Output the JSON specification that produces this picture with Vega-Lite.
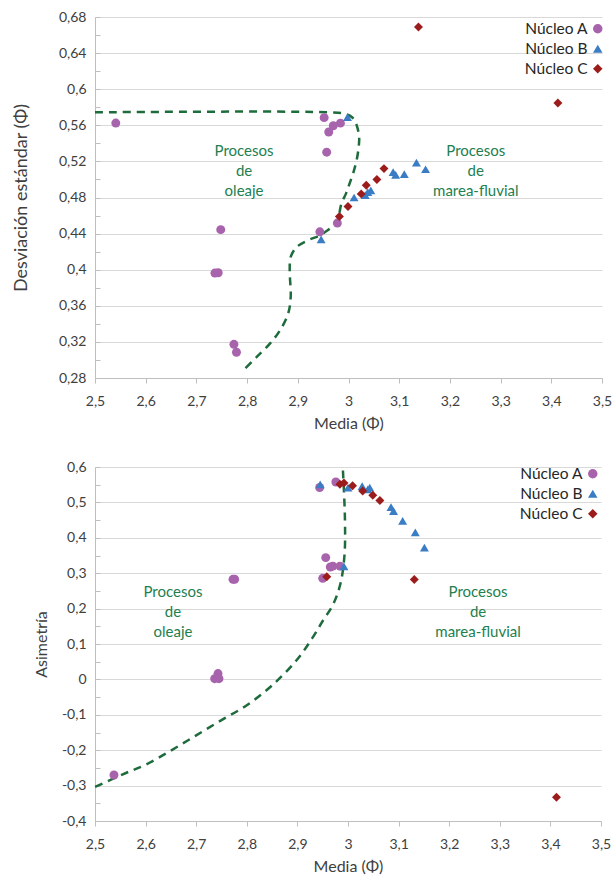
{
  "$schema": "https://vega.github.io/schema/vega-lite/v6.json",
  "padding": {"left": 12, "top": 10, "right": 2, "bottom": 5},
  "config": {
    "font": "Lato",
    "view": {"stroke": null},
    "axis": {"labelColor": "#404040", "titleColor": "#404040", "labelFontSize": 14, "titleFontSize": 16, "titleFontWeight": "normal", "gridColor": "#d9d9d9", "domainColor": "#bfbfbf", "tickColor": "#bfbfbf", "labelFont": "Lato", "titleFont": "Lato", "labelOverlap": false, "labelFlush": false},
    "legend": {"labelFont": "Lato", "labelFontSize": 15.5, "labelColor": "#262626"},
    "text": {"lineBreak": "\n"}
  },
  "datasets": {
    "top": [
      {"nucleo": "Núcleo A", "media": 2.541, "desv": 0.5625},
      {"nucleo": "Núcleo A", "media": 2.952, "desv": 0.5685},
      {"nucleo": "Núcleo A", "media": 2.970, "desv": 0.5595},
      {"nucleo": "Núcleo A", "media": 2.984, "desv": 0.5624},
      {"nucleo": "Núcleo A", "media": 2.961, "desv": 0.5526},
      {"nucleo": "Núcleo A", "media": 2.957, "desv": 0.5302},
      {"nucleo": "Núcleo A", "media": 2.748, "desv": 0.4444},
      {"nucleo": "Núcleo A", "media": 2.7365, "desv": 0.3963},
      {"nucleo": "Núcleo A", "media": 2.743, "desv": 0.3966},
      {"nucleo": "Núcleo A", "media": 2.774, "desv": 0.3173},
      {"nucleo": "Núcleo A", "media": 2.779, "desv": 0.3085},
      {"nucleo": "Núcleo A", "media": 2.9435, "desv": 0.442},
      {"nucleo": "Núcleo A", "media": 2.978, "desv": 0.4517},
      {"nucleo": "Núcleo B", "media": 2.998, "desv": 0.569},
      {"nucleo": "Núcleo B", "media": 3.134, "desv": 0.5187},
      {"nucleo": "Núcleo B", "media": 3.152, "desv": 0.5113},
      {"nucleo": "Núcleo B", "media": 3.088, "desv": 0.508},
      {"nucleo": "Núcleo B", "media": 3.093, "desv": 0.505},
      {"nucleo": "Núcleo B", "media": 3.110, "desv": 0.506},
      {"nucleo": "Núcleo B", "media": 3.044, "desv": 0.488},
      {"nucleo": "Núcleo B", "media": 3.038, "desv": 0.486},
      {"nucleo": "Núcleo B", "media": 3.033, "desv": 0.4825},
      {"nucleo": "Núcleo B", "media": 3.011, "desv": 0.480},
      {"nucleo": "Núcleo B", "media": 2.946, "desv": 0.4335},
      {"nucleo": "Núcleo C", "media": 3.138, "desv": 0.669},
      {"nucleo": "Núcleo C", "media": 3.413, "desv": 0.5847},
      {"nucleo": "Núcleo C", "media": 3.070, "desv": 0.512},
      {"nucleo": "Núcleo C", "media": 3.056, "desv": 0.500},
      {"nucleo": "Núcleo C", "media": 3.035, "desv": 0.4935},
      {"nucleo": "Núcleo C", "media": 3.025, "desv": 0.484},
      {"nucleo": "Núcleo C", "media": 2.999, "desv": 0.470},
      {"nucleo": "Núcleo C", "media": 2.982, "desv": 0.459}
    ],
    "bottom": [
      {"nucleo": "Núcleo A", "media": 2.944, "asim": 0.542},
      {"nucleo": "Núcleo A", "media": 2.976, "asim": 0.5576},
      {"nucleo": "Núcleo A", "media": 2.956, "asim": 0.344},
      {"nucleo": "Núcleo A", "media": 2.965, "asim": 0.3175},
      {"nucleo": "Núcleo A", "media": 2.970, "asim": 0.320},
      {"nucleo": "Núcleo A", "media": 2.984, "asim": 0.320},
      {"nucleo": "Núcleo A", "media": 2.950, "asim": 0.2856},
      {"nucleo": "Núcleo A", "media": 2.7727, "asim": 0.2828},
      {"nucleo": "Núcleo A", "media": 2.776, "asim": 0.283},
      {"nucleo": "Núcleo A", "media": 2.7431, "asim": 0.0164},
      {"nucleo": "Núcleo A", "media": 2.7365, "asim": 0.002},
      {"nucleo": "Núcleo A", "media": 2.745, "asim": 0.002},
      {"nucleo": "Núcleo A", "media": 2.5375, "asim": -0.270},
      {"nucleo": "Núcleo B", "media": 2.945, "asim": 0.551},
      {"nucleo": "Núcleo B", "media": 3.000, "asim": 0.542},
      {"nucleo": "Núcleo B", "media": 3.028, "asim": 0.546},
      {"nucleo": "Núcleo B", "media": 3.039, "asim": 0.537},
      {"nucleo": "Núcleo B", "media": 3.043, "asim": 0.542},
      {"nucleo": "Núcleo B", "media": 3.085, "asim": 0.487},
      {"nucleo": "Núcleo B", "media": 3.090, "asim": 0.4757},
      {"nucleo": "Núcleo B", "media": 3.108, "asim": 0.448},
      {"nucleo": "Núcleo B", "media": 3.133, "asim": 0.4155},
      {"nucleo": "Núcleo B", "media": 3.151, "asim": 0.372},
      {"nucleo": "Núcleo B", "media": 2.992, "asim": 0.319},
      {"nucleo": "Núcleo C", "media": 2.958, "asim": 0.290},
      {"nucleo": "Núcleo C", "media": 2.984, "asim": 0.551},
      {"nucleo": "Núcleo C", "media": 2.992, "asim": 0.555},
      {"nucleo": "Núcleo C", "media": 3.009, "asim": 0.547},
      {"nucleo": "Núcleo C", "media": 3.029, "asim": 0.532},
      {"nucleo": "Núcleo C", "media": 3.049, "asim": 0.520},
      {"nucleo": "Núcleo C", "media": 3.063, "asim": 0.5056},
      {"nucleo": "Núcleo C", "media": 3.131, "asim": 0.282},
      {"nucleo": "Núcleo C", "media": 3.412, "asim": -0.333}
    ],
    "topLine": [
      {"o": 1, "media": 2.5, "desv": 0.5744},
      {"o": 2, "media": 2.963, "desv": 0.5744},
      {"o": 3, "media": 2.993, "desv": 0.5727},
      {"o": 4, "media": 3.007, "desv": 0.5689},
      {"o": 5, "media": 3.016, "desv": 0.5602},
      {"o": 6, "media": 3.021, "desv": 0.5467},
      {"o": 7, "media": 3.020, "desv": 0.5356},
      {"o": 8, "media": 3.016, "desv": 0.5212},
      {"o": 9, "media": 3.009, "desv": 0.5065},
      {"o": 10, "media": 3.002, "desv": 0.4954},
      {"o": 11, "media": 2.995, "desv": 0.4843},
      {"o": 12, "media": 2.986, "desv": 0.4732},
      {"o": 13, "media": 2.981, "desv": 0.4603},
      {"o": 14, "media": 2.975, "desv": 0.4503},
      {"o": 15, "media": 2.963, "desv": 0.4453},
      {"o": 16, "media": 2.944, "desv": 0.4381},
      {"o": 17, "media": 2.920, "desv": 0.4326},
      {"o": 18, "media": 2.898, "desv": 0.4252},
      {"o": 19, "media": 2.886, "desv": 0.4141},
      {"o": 20, "media": 2.884, "desv": 0.3993},
      {"o": 21, "media": 2.886, "desv": 0.3698},
      {"o": 22, "media": 2.881, "desv": 0.3514},
      {"o": 23, "media": 2.865, "desv": 0.3329},
      {"o": 24, "media": 2.845, "desv": 0.3181},
      {"o": 25, "media": 2.819, "desv": 0.3033},
      {"o": 26, "media": 2.796, "desv": 0.2904}
    ],
    "bottomLine": [
      {"o": 1, "media": 2.99, "asim": 0.59},
      {"o": 2, "media": 2.994, "asim": 0.45},
      {"o": 3, "media": 2.993, "asim": 0.35},
      {"o": 4, "media": 2.985, "asim": 0.27},
      {"o": 5, "media": 2.97, "asim": 0.21},
      {"o": 6, "media": 2.95, "asim": 0.165},
      {"o": 7, "media": 2.93, "asim": 0.118},
      {"o": 8, "media": 2.9, "asim": 0.057},
      {"o": 9, "media": 2.85, "asim": -0.017},
      {"o": 10, "media": 2.8, "asim": -0.073},
      {"o": 11, "media": 2.75, "asim": -0.115},
      {"o": 12, "media": 2.7, "asim": -0.158},
      {"o": 13, "media": 2.65, "asim": -0.201},
      {"o": 14, "media": 2.6, "asim": -0.241},
      {"o": 15, "media": 2.555, "asim": -0.268},
      {"o": 16, "media": 2.5, "asim": -0.304}
    ],
    "notesTop": [
      {"media": 2.794, "desv": 0.532, "label": "Procesos\nde\noleaje"},
      {"media": 3.251, "desv": 0.532, "label": "Procesos\nde\nmarea-fluvial"}
    ],
    "notesBottom": [
      {"media": 2.654, "asim": 0.246, "label": "Procesos\nde\noleaje"},
      {"media": 3.257, "asim": 0.246, "label": "Procesos\nde\nmarea-fluvial"}
    ]
  },
  "vconcat": [
    {
      "width": 507,
      "height": 361,
      "layer": [
        {
          "data": {"name": "topLine"},
          "mark": {"type": "line", "strokeDash": [8, 6], "color": "#1e6b3c", "strokeWidth": 2.5, "interpolate": "catmull-rom"},
          "encoding": {
            "x": {"field": "media", "type": "quantitative", "scale": {"domain": [2.5, 3.5], "nice": false, "zero": false},
              "axis": {"title": "Media (Φ)", "values": [2.5, 2.6, 2.7, 2.8, 2.9, 3.0, 3.1, 3.2, 3.3, 3.4, 3.5], "tickCount": 50, "labelExpr": "replace(format(datum.value, '.1~f'), '.', ',')", "grid": false, "tickSize": 5, "labelPadding": 11, "titlePadding": 7}},
            "y": {"field": "desv", "type": "quantitative", "scale": {"domain": [0.28, 0.68], "nice": false, "zero": false},
              "axis": {"title": "Desviación estándar (Φ)", "titleFontSize": 18, "tickCount": 100, "values": [0.28, 0.3, 0.32, 0.34, 0.36, 0.38, 0.4, 0.42, 0.44, 0.46, 0.48, 0.5, 0.52, 0.54, 0.56, 0.58, 0.6, 0.62, 0.64, 0.66, 0.68],
                "labelExpr": "round(datum.value*100)%4==0 ? replace(format(datum.value, '.2~f'), '.', ',') : ''",
                "gridOpacity": {"condition": {"test": "round(datum.value*100)%4==0", "value": 1}, "value": 0},
                "tickSize": -5, "labelPadding": 14, "titlePadding": 28}},
            "order": {"field": "o", "type": "quantitative"}
          }
        },
        {
          "data": {"name": "notesTop"},
          "mark": {"type": "text", "color": "#22804f", "fontSize": 15, "lineHeight": 20, "align": "center", "baseline": "middle"},
          "encoding": {
            "x": {"field": "media", "type": "quantitative"},
            "y": {"field": "desv", "type": "quantitative"},
            "text": {"field": "label", "type": "nominal"}
          }
        },
        {
          "data": {"name": "top"},
          "mark": {"type": "point", "filled": true, "size": 80, "opacity": 1},
          "encoding": {
            "x": {"field": "media", "type": "quantitative"},
            "y": {"field": "desv", "type": "quantitative"},
            "color": {"field": "nucleo", "type": "nominal", "scale": {"domain": ["Núcleo A", "Núcleo B", "Núcleo C"], "range": ["#a863ad", "#3a7dc4", "#9c1b1b"]},
              "legend": {"title": null, "orient": "none", "legendX": 495, "legendY": 4, "labelAlign": "right", "labelOffset": -18, "rowPadding": 3, "symbolSize": 90, "padding": 0}},
            "shape": {"field": "nucleo", "type": "nominal", "scale": {"domain": ["Núcleo A", "Núcleo B", "Núcleo C"], "range": ["circle", "triangle-up", "diamond"]},
              "legend": {"title": null, "orient": "none", "legendX": 495, "legendY": 4, "labelAlign": "right", "labelOffset": -18, "rowPadding": 3, "symbolSize": 90, "padding": 0}}
          }
        }
      ]
    },
    {
      "width": 506,
      "height": 354,
      "layer": [
        {
          "data": {"name": "bottomLine"},
          "mark": {"type": "line", "strokeDash": [8, 6], "color": "#1e6b3c", "strokeWidth": 2.5, "interpolate": "catmull-rom"},
          "encoding": {
            "x": {"field": "media", "type": "quantitative", "scale": {"domain": [2.5, 3.5], "nice": false, "zero": false},
              "axis": {"title": "Media (Φ)", "values": [2.5, 2.6, 2.7, 2.8, 2.9, 3.0, 3.1, 3.2, 3.3, 3.4, 3.5], "tickCount": 50, "labelExpr": "replace(format(datum.value, '.1~f'), '.', ',')", "grid": false, "tickSize": 5, "labelPadding": 11, "titlePadding": 7}},
            "y": {"field": "asim", "type": "quantitative", "scale": {"domain": [-0.4, 0.6], "nice": false, "zero": false},
              "axis": {"title": "Asimetría", "tickCount": 100, "values": [-0.4, -0.35, -0.3, -0.25, -0.2, -0.15, -0.1, -0.05, 0, 0.05, 0.1, 0.15, 0.2, 0.25, 0.3, 0.35, 0.4, 0.45, 0.5, 0.55, 0.6],
                "labelExpr": "round(datum.value*100)%10==0 ? replace(replace(format(datum.value, '.1~f'), '.', ','), '−', '-') : ''",
                "gridOpacity": {"condition": {"test": "round(datum.value*100)%10==0", "value": 1}, "value": 0},
                "tickSize": -5, "labelPadding": 14, "titlePadding": 12}},
            "order": {"field": "o", "type": "quantitative"}
          }
        },
        {
          "data": {"name": "notesBottom"},
          "mark": {"type": "text", "color": "#22804f", "fontSize": 15, "lineHeight": 20, "align": "center", "baseline": "middle"},
          "encoding": {
            "x": {"field": "media", "type": "quantitative"},
            "y": {"field": "asim", "type": "quantitative"},
            "text": {"field": "label", "type": "nominal"}
          }
        },
        {
          "data": {"name": "bottom"},
          "mark": {"type": "point", "filled": true, "size": 80, "opacity": 1},
          "encoding": {
            "x": {"field": "media", "type": "quantitative"},
            "y": {"field": "asim", "type": "quantitative"},
            "color": {"field": "nucleo", "type": "nominal", "scale": {"domain": ["Núcleo A", "Núcleo B", "Núcleo C"], "range": ["#a863ad", "#3a7dc4", "#9c1b1b"]},
              "legend": {"title": null, "orient": "none", "legendX": 490, "legendY": -1, "labelAlign": "right", "labelOffset": -18, "rowPadding": 3, "symbolSize": 90, "padding": 0}},
            "shape": {"field": "nucleo", "type": "nominal", "scale": {"domain": ["Núcleo A", "Núcleo B", "Núcleo C"], "range": ["circle", "triangle-up", "diamond"]},
              "legend": {"title": null, "orient": "none", "legendX": 490, "legendY": -1, "labelAlign": "right", "labelOffset": -18, "rowPadding": 3, "symbolSize": 90, "padding": 0}}
          }
        }
      ]
    }
  ],
  "spacing": 29,
  "resolve": {"scale": {"color": "independent", "shape": "independent"}, "legend": {"color": "independent", "shape": "independent"}}
}
